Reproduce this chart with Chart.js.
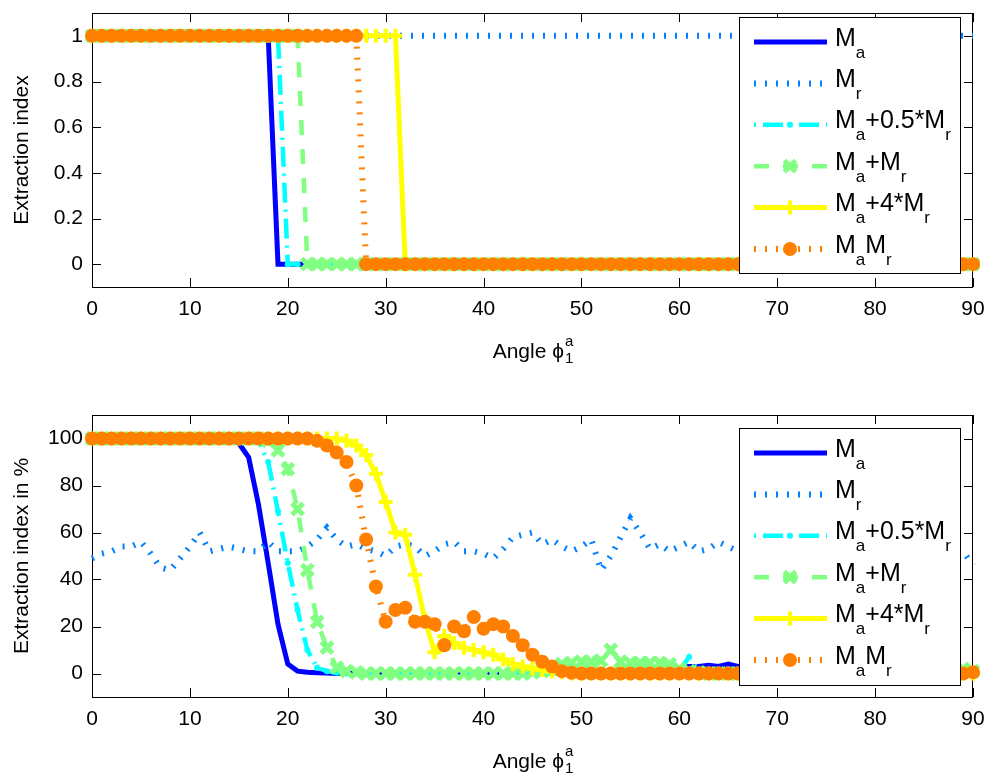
<!DOCTYPE html>
<html>
<head>
<meta charset="utf-8">
<script src="https://cdn.jsdelivr.net/npm/chart.js@4.4.1/dist/chart.umd.min.js"></script>
<style>
  html, body { margin: 0; padding: 0; background: #fff; }
  .panel { position: absolute; left: 0; width: 995px; height: 391px; }
  #p1 { top: 0; }
  #p2 { top: 391px; }
</style>
</head>
<body>
<div class="panel" id="p1"><canvas id="c1" width="995" height="391"></canvas></div>
<div class="panel" id="p2"><canvas id="c2" width="995" height="391"></canvas></div>
<script>
// Angle grid (degrees) and tick labels
const angles = [0,1,2,3,4,5,6,7,8,9,10,11,12,13,14,15,16,17,18,19,20,21,22,23,24,25,26,27,28,29,
  30,31,32,33,34,35,36,37,38,39,40,41,42,43,44,45,46,47,48,49,50,51,52,53,54,55,56,57,58,59,
  60,61,62,63,64,65,66,67,68,69,70,71,72,73,74,75,76,77,78,79,80,81,82,83,84,85,86,87,88,89,90];
const xTicks = [0, 10, 20, 30, 40, 50, 60, 70, 80, 90];
const topYTicks = [0, 0.2, 0.4, 0.6, 0.8, 1];
const botYTicks = [0, 20, 40, 60, 80, 100];

// Top panel: extraction index (0/1)
const topMa = [1,1,1,1,1,1,1,1,1,1, 1,1,1,1,1,1,1,1,1,0, 0,0,0,0,0,0,0,0,0,0, 0,0,0,0,0,0,0,0,0,0,
  0,0,0,0,0,0,0,0,0,0, 0,0,0,0,0,0,0,0,0,0, 0,0,0,0,0,0,0,0,0,0, 0,0,0,0,0,0,0,0,0,0, 0,0,0,0,0,0,0,0,0,0, 0];
const topMr = [1,1,1,1,1,1,1,1,1,1, 1,1,1,1,1,1,1,1,1,1, 1,1,1,1,1,1,1,1,1,1, 1,1,1,1,1,1,1,1,1,1,
  1,1,1,1,1,1,1,1,1,1, 1,1,1,1,1,1,1,1,1,1, 1,1,1,1,1,1,1,1,1,1, 1,1,1,1,1,1,1,1,1,1, 1,1,1,1,1,1,1,1,1,1, 1];
const topMaHalfMr = [1,1,1,1,1,1,1,1,1,1, 1,1,1,1,1,1,1,1,1,1, 0,0,0,0,0,0,0,0,0,0, 0,0,0,0,0,0,0,0,0,0,
  0,0,0,0,0,0,0,0,0,0, 0,0,0,0,0,0,0,0,0,0, 0,0,0,0,0,0,0,0,0,0, 0,0,0,0,0,0,0,0,0,0, 0,0,0,0,0,0,0,0,0,0, 0];
const topMaPlusMr = [1,1,1,1,1,1,1,1,1,1, 1,1,1,1,1,1,1,1,1,1, 1,1,0,0,0,0,0,0,0,0, 0,0,0,0,0,0,0,0,0,0,
  0,0,0,0,0,0,0,0,0,0, 0,0,0,0,0,0,0,0,0,0, 0,0,0,0,0,0,0,0,0,0, 0,0,0,0,0,0,0,0,0,0, 0,0,0,0,0,0,0,0,0,0, 0];
const topMa4Mr = [1,1,1,1,1,1,1,1,1,1, 1,1,1,1,1,1,1,1,1,1, 1,1,1,1,1,1,1,1,1,1, 1,1,0,0,0,0,0,0,0,0,
  0,0,0,0,0,0,0,0,0,0, 0,0,0,0,0,0,0,0,0,0, 0,0,0,0,0,0,0,0,0,0, 0,0,0,0,0,0,0,0,0,0, 0,0,0,0,0,0,0,0,0,0, 0];
const topMaMr = [1,1,1,1,1,1,1,1,1,1, 1,1,1,1,1,1,1,1,1,1, 1,1,1,1,1,1,1,1,0,0, 0,0,0,0,0,0,0,0,0,0,
  0,0,0,0,0,0,0,0,0,0, 0,0,0,0,0,0,0,0,0,0, 0,0,0,0,0,0,0,0,0,0, 0,0,0,0,0,0,0,0,0,0, 0,0,0,0,0,0,0,0,0,0, 0];

// Bottom panel: extraction index in %
const botMa = [100,100,100,100,100,100,100,100,100,100, 100,100,100,100,99.5,98,92,72,47,21,
  4,1,0.5,0.3,0.2,0,0,0,0,0, 0,0,0,0,0,0,0,0,0,0, 0,0,0,0,0,0,0,1,1,0.5,
  0.5,0.5,1,0.5,1,1,1,1.5,2,2, 2.5,3,3,3.5,3,4,3,2,2,1.5, 1,1,0.5,0.5,0.5,0.5,0.5,0.5,0.5,0.5,
  0,0,0,0,0,0,0,0,0,0, 0];
const botMr = [49,51,52,54,54,56,51,45,44,49, 54,60,52,53,54,53,52,52,56,52,
  52,52,54,57,62,57,54,55,53,52, 50,54,55,54,50,52,55,56,52,52, 51,49,53,58,59,60,55,57,54,52,
  54,57,44,50,58,66,60,53,55,52, 54,56,52,53,56,54,52,53,55,53, 56,54,52,50,53,55,57,54,52,55,
  58,53,51,54,56,55,52,50,53,52, 46];
const botMaHalfMr = [100,100,100,100,100,100,100,100,100,100, 100,100,100,100,100,100,100,99,90,69,
  47,27,10,2.5,1,0.3,0,0,0,0, 0,0,0,0,0,0,0,0,0,0, 0,0,0,0,0,0,0,0,0,0,
  0,0,0,0,0,0,0,0,0,0, 1,7,1,0.5,0.5,0.5,0.5,0,0,0, 0,0,0,0,0,0,0,0,0,0,
  0,0,0,0,0,0,0,0,0,0, 0];
const botMaPlusMr = [100,100,100,100,100,100,100,100,100,100, 100,100,100,100,100,100,100,100,99,95,
  87,70,44,22,11,2.5,1,0.5,0,0, 0,0,0,0,0,0,0,0,0,0, 0,0,0,0,0,0.5,1,2,4,4.5,
  5,5,5.5,10,5,4.5,4.5,4.5,4.5,4, 2,1,0.5,0,0,0,0,0,0,0, 0,0,0,0,0,0,0,0,0,0,
  0,0,0,0,0,0,0,0,0,2, 1];
const botMa4Mr = [100,100,100,100,100,100,100,100,100,100, 100,100,100,100,100,100,100,100,100,100,
  100,100,100,100,100,100,99,97,93,85, 73,60,59,42,23,9,16,13,11,10, 9,8,6,4,3,2,1.5,1,0.5,0,
  0,0,0,0,0,0,0,0,0,0, 0,0,0,0,0,0,0,0,0,0, 0,0,0,0,0,0,0,0,0,0,
  0,0,0,0,0,0,0,0,0,0, 0];
const botMaMr = [100,100,100,100,100,100,100,100,100,100, 100,100,100,100,100,100,100,100,100,100,
  100,100,100,99,97,94,90,80,57,37, 22,27,28,22,22,21,12,20,18,24, 19,21,20,16,12,8,5,3,1,0.3,
  0,0,0,0,0,0,0,0,0,0, 0,0,0,0,0,0,0,0,0,0, 0,0,0,0,0,0,0,0,0,0,
  0,0,0,0,0,0,0,0,0,0, 0.5];

// Series look (MATLAB jet(8) colours)
const seriesStyle = [
  { label: [['M', 0], ['a', 1]], color: '#0000ff', width: 5, dash: [], marker: null },
  { label: [['M', 0], ['r', 1]], color: '#0080ff', width: 6, dash: [2, 9], marker: null },
  { label: [['M', 0], ['a', 1], ['+0.5*M', 0], ['r', 1]], color: '#00ffff', width: 4.5, dash: [2, 7, 20, 7], marker: 'circle', radius: 3, mw: 0 },
  { label: [['M', 0], ['a', 1], ['+M', 0], ['r', 1]], color: '#80ff80', width: 4.5, dash: [15, 14], marker: 'crossRot', radius: 8, mw: 5 },
  { label: [['M', 0], ['a', 1], ['+4*M', 0], ['r', 1]], color: '#ffff00', width: 5, dash: [], marker: 'cross', radius: 7, mw: 4 },
  { label: [['M', 0], ['a', 1], ['M', 0], ['r', 1]], color: '#ff8000', width: 6, dash: [2, 9], marker: 'circle', radius: 7, mw: 0 }
];

const FONT = '"Liberation Sans", Arial, Helvetica, sans-serif';
Chart.defaults.font.family = FONT;
Chart.defaults.color = '#000';

function makeDatasets(series) {
  return series.map((vals, i) => {
    const s = seriesStyle[i];
    return {
      data: angles.map((a, k) => ({ x: a, y: vals[k] })),
      borderColor: s.color,
      borderWidth: s.width,
      borderDash: s.dash,
      backgroundColor: s.color,
      pointStyle: s.marker || 'circle',
      pointRadius: s.marker ? s.radius : 0,
      pointBorderWidth: s.marker ? s.mw : 0,
      pointBackgroundColor: s.color,
      pointBorderColor: s.color,
      pointHoverRadius: 0,
      tension: 0,
      fill: false,
      clip: false,
      order: series.length - 1 - i
    };
  });
}

function drawMarker(ctx, style, r, x, y) {
  ctx.beginPath();
  if (style === 'circle') {
    ctx.arc(x, y, r, 0, Math.PI * 2);
    ctx.fill();
  } else if (style === 'cross') {
    ctx.moveTo(x - r, y); ctx.lineTo(x + r, y);
    ctx.moveTo(x, y - r); ctx.lineTo(x, y + r);
    ctx.stroke();
  } else if (style === 'crossRot') {
    const d = r * Math.SQRT1_2;
    ctx.moveTo(x - d, y - d); ctx.lineTo(x + d, y + d);
    ctx.moveTo(x + d, y - d); ctx.lineTo(x - d, y + d);
    ctx.stroke();
  }
}

// label with subscripts: parts are [text, isSub]
function drawRich(ctx, parts, x, base, big, small, drop) {
  parts.forEach(([t, sub]) => {
    ctx.font = (sub ? small : big) + 'px ' + FONT;
    ctx.fillText(t, x, sub ? base + drop : base);
    x += ctx.measureText(t).width;
  });
}

// MATLAB-like axes box, inward ticks, legend and x label
const axesDeco = {
  id: 'axesDeco',
  beforeDatasetsDraw(chart) {
    const { ctx, chartArea: a, scales: { x, y } } = chart;
    ctx.save();
    ctx.strokeStyle = '#000';
    ctx.lineWidth = 1;
    ctx.strokeRect(a.left + 0.5, a.top + 0.5, a.right - a.left - 1, a.bottom - a.top);
    ctx.beginPath();
    x.ticks.forEach(t => {
      const px = Math.round(x.getPixelForValue(t.value)) + 0.5;
      ctx.moveTo(px, a.bottom); ctx.lineTo(px, a.bottom - 9);
      ctx.moveTo(px, a.top); ctx.lineTo(px, a.top + 9);
    });
    y.ticks.forEach(t => {
      const py = Math.round(y.getPixelForValue(t.value)) + 0.5;
      ctx.moveTo(a.left, py); ctx.lineTo(a.left + 9, py);
      ctx.moveTo(a.right, py); ctx.lineTo(a.right - 9, py);
    });
    ctx.stroke();
    ctx.restore();
  },
  afterDatasetsDraw(chart, args, opts) {
    const { ctx, chartArea: a } = chart;
    ctx.save();
    // legend box
    const L = opts.legend;
    ctx.fillStyle = '#fff';
    ctx.fillRect(L.x, L.y, L.w, L.h);
    ctx.strokeStyle = '#000';
    ctx.lineWidth = 1;
    ctx.strokeRect(L.x + 0.5, L.y + 0.5, L.w, L.h);
    seriesStyle.forEach((s, i) => {
      const ry = L.y + 25 + i * 41.4;
      ctx.strokeStyle = s.color;
      ctx.fillStyle = s.color;
      ctx.lineWidth = s.width;
      ctx.setLineDash(s.dash);
      ctx.beginPath();
      ctx.moveTo(L.x + 15, ry); ctx.lineTo(L.x + 88, ry);
      ctx.stroke();
      ctx.setLineDash([]);
      if (s.marker) {
        ctx.lineWidth = s.mw;
        drawMarker(ctx, s.marker, s.radius, L.x + 51, ry);
      }
      ctx.fillStyle = '#000';
      ctx.textBaseline = 'alphabetic';
      ctx.textAlign = 'left';
      drawRich(ctx, s.label, L.x + 96, ry + 3.5, 25, 17, 12);
    });
    // x axis title: Angle phi_1^a
    ctx.fillStyle = '#000';
    ctx.textBaseline = 'alphabetic';
    ctx.textAlign = 'left';
    ctx.font = '21px ' + FONT;
    const main = 'Angle \u03d5';
    const w = ctx.measureText(main).width;
    ctx.font = '15px ' + FONT;
    const ws = ctx.measureText('a').width;
    const x0 = (a.left + a.right) / 2 - (w + ws) / 2;
    ctx.font = '21px ' + FONT;
    ctx.fillText(main, x0, opts.titleBase);
    ctx.font = '15px ' + FONT;
    ctx.fillText('a', x0 + w + 1, opts.titleBase - 12);
    ctx.fillText('1', x0 + w + 1, opts.titleBase + 5);
    ctx.restore();
  }
};

function makeChart(id, series, yTicks, yMin, yMax, yTitle, xAxisH, padTop, legend, titleBase) {
  return new Chart(document.getElementById(id), {
    type: 'line',
    data: { datasets: makeDatasets(series) },
    plugins: [axesDeco],
    options: {
      responsive: false,
      animation: false,
      events: [],
      layout: { padding: { top: padTop, right: 22, left: 0, bottom: 0 } },
      plugins: {
        legend: { display: false },
        tooltip: { enabled: false },
        axesDeco: { legend: legend, titleBase: titleBase }
      },
      scales: {
        x: {
          type: 'linear', min: 0, max: 90,
          grid: { display: false, drawTicks: false },
          border: { display: false },
          afterBuildTicks: s => { s.ticks = xTicks.map(v => ({ value: v })); },
          afterFit: s => { s.height = xAxisH; s.paddingLeft = 0; s.paddingRight = 0; },
          ticks: { font: { size: 21 }, padding: 10, maxRotation: 0, autoSkip: false }
        },
        y: {
          type: 'linear', min: yMin, max: yMax,
          grid: { display: false, drawTicks: false },
          border: { display: false },
          afterBuildTicks: s => { s.ticks = yTicks.map(v => ({ value: v })); },
          afterFit: s => { s.width = 92; s.paddingTop = 0; s.paddingBottom = 0; },
          ticks: { font: { size: 21 }, padding: 9, autoSkip: false, callback: v => String(v) },
          title: { display: true, text: yTitle, font: { size: 21 }, padding: { top: 10, bottom: 0 } }
        }
      }
    }
  });
}

makeChart('c1', [topMa, topMr, topMaHalfMr, topMaPlusMr, topMa4Mr, topMaMr],
  topYTicks, -0.1, 1.1, 'Extraction index', 104, 5,
  { x: 739, y: 17, w: 221, h: 256 }, 358);

makeChart('c2', [botMa, botMr, botMaHalfMr, botMaPlusMr, botMa4Mr, botMaMr],
  botYTicks, -10, 110, 'Extraction index in %', 85, 24,
  { x: 739, y: 37, w: 221, h: 257 }, 377);
</script>
</body>
</html>
